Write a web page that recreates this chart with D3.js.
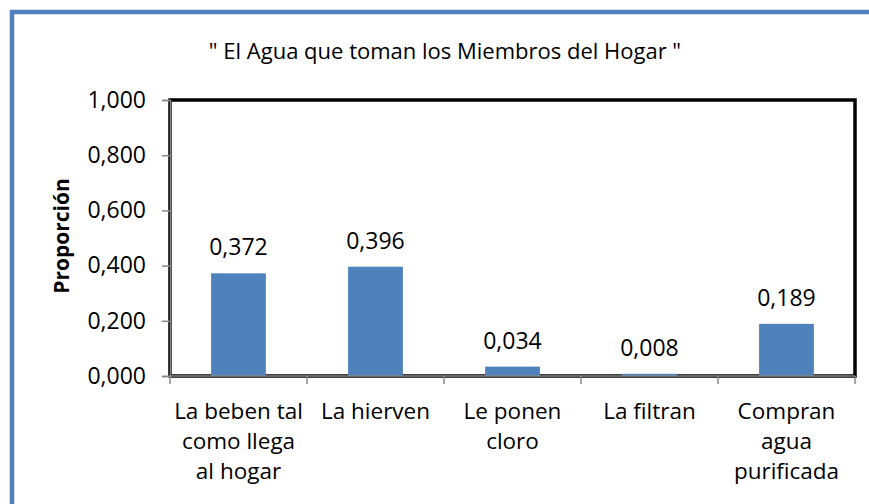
<!DOCTYPE html>
<html lang="es">
<head>
    <meta charset="utf-8">
    <title>El Agua que toman los Miembros del Hogar</title>
    <script src="https://d3js.org/d3.v7.min.js"></script>
    <style>
        body { margin: 0; background: #fff; }
        svg text { font-family: "Open Sans", "Noto Sans", sans-serif; fill: #000; }
    </style>
</head>
<body>
<svg id="g1"></svg>
<script>

    const categories = [
        ["La beben tal", "como llega", "al hogar"],
        ["La hierven"],
        ["Le ponen", "cloro"],
        ["La filtran"],
        ["Compran", "agua", "purificada"]
    ];
    const values = [0.372, 0.396, 0.034, 0.008, 0.189];
    const yTicks = [0, 0.2, 0.4, 0.6, 0.8, 1.0];

    let width = 869,
        height = 504,
        margin = {top: 100, right: 14, bottom: 128, left: 170},
        chartWidth = width - margin.left - margin.right,
        chartHeight = height - margin.top - margin.bottom;

    let fmt = v => d3.format(".3f")(v).replace(".", ",");

    let svg = d3.select("#g1")
        .attr("width", width)
        .attr("height", height);

    // outer frame
    svg.append("rect")
        .attr("x", 12).attr("y", 12)
        .attr("width", width + 20).attr("height", height + 20)
        .attr("fill", "none")
        .attr("stroke", "#4F81BD")
        .attr("stroke-width", 4.5);

    svg.append("text")
        .attr("x", 445).attr("y", 59)
        .attr("text-anchor", "middle")
        .style("font-size", "22px")
        .text('" El Agua que toman los Miembros del Hogar "');

    let x = d3.scaleBand()
        .domain(d3.range(categories.length))
        .range([0, chartWidth])
        .paddingInner(0.6)
        .paddingOuter(0.3);

    let y = d3.scaleLinear()
        .domain([0, 1])
        .range([chartHeight, 0]);

    let chartArea = svg.append("g")
        .attr("transform", `translate(${margin.left},${margin.top})`);

    chartArea.append("rect")
        .attr("x", 0).attr("y", 0)
        .attr("width", chartWidth).attr("height", chartHeight)
        .attr("fill", "none")
        .attr("stroke", "#000")
        .attr("stroke-width", 3.5);

    chartArea.selectAll(".bar")
        .data(values)
        .enter().append("rect")
            .attr("class", "bar")
            .attr("x", (d, i) => x(i))
            .attr("width", x.bandwidth())
            .attr("y", d => y(d))
            .attr("height", d => chartHeight - y(d))
            .attr("fill", "#4F81BD");

    chartArea.selectAll(".val")
        .data(values)
        .enter().append("text")
            .attr("class", "val")
            .attr("x", (d, i) => x(i) + x.bandwidth() / 2)
            .attr("y", d => y(d) - 18)
            .attr("text-anchor", "middle")
            .style("font-size", "23px")
            .text(d => fmt(d));

    // y axis
    let yAxis = chartArea.append("g")
        .call(d3.axisLeft(y).tickValues(yTicks).tickFormat(fmt).tickSize(8).tickPadding(16));
    yAxis.select(".domain").attr("stroke", "#888").attr("stroke-width", 1.5);
    yAxis.selectAll(".tick line").attr("stroke", "#888").attr("stroke-width", 1.5);
    yAxis.selectAll(".tick text").style("font-size", "23px").attr("font-family", null);

    // x axis: ticks at category boundaries
    let step = chartWidth / categories.length;
    let xAxis = chartArea.append("g")
        .attr("transform", `translate(0,${chartHeight})`);
    xAxis.append("line")
        .attr("x1", 0).attr("x2", chartWidth)
        .attr("stroke", "#888").attr("stroke-width", 1.5);
    xAxis.selectAll(".xt")
        .data(d3.range(categories.length + 1))
        .enter().append("line")
            .attr("x1", d => d * step).attr("x2", d => d * step)
            .attr("y1", 0).attr("y2", 8)
            .attr("stroke", "#888").attr("stroke-width", 1.5);

    xAxis.selectAll(".lab")
        .data(categories)
        .enter().append("text")
            .attr("class", "lab")
            .attr("x", (d, i) => x(i) + x.bandwidth() / 2)
            .attr("y", 43)
            .attr("text-anchor", "middle")
            .style("font-size", "22.5px")
            .selectAll("tspan")
            .data(d => d)
            .enter().append("tspan")
                .attr("x", function () { return this.parentNode.getAttribute("x"); })
                .attr("dy", (d, i) => i === 0 ? 0 : 30)
                .text(d => d);

    svg.append("text")
        .attr("transform", "translate(69,236) rotate(-90)")
        .attr("text-anchor", "middle")
        .style("font-size", "21px")
        .style("font-weight", "bold")
        .text("Proporción");

</script>
</body>
</html>
